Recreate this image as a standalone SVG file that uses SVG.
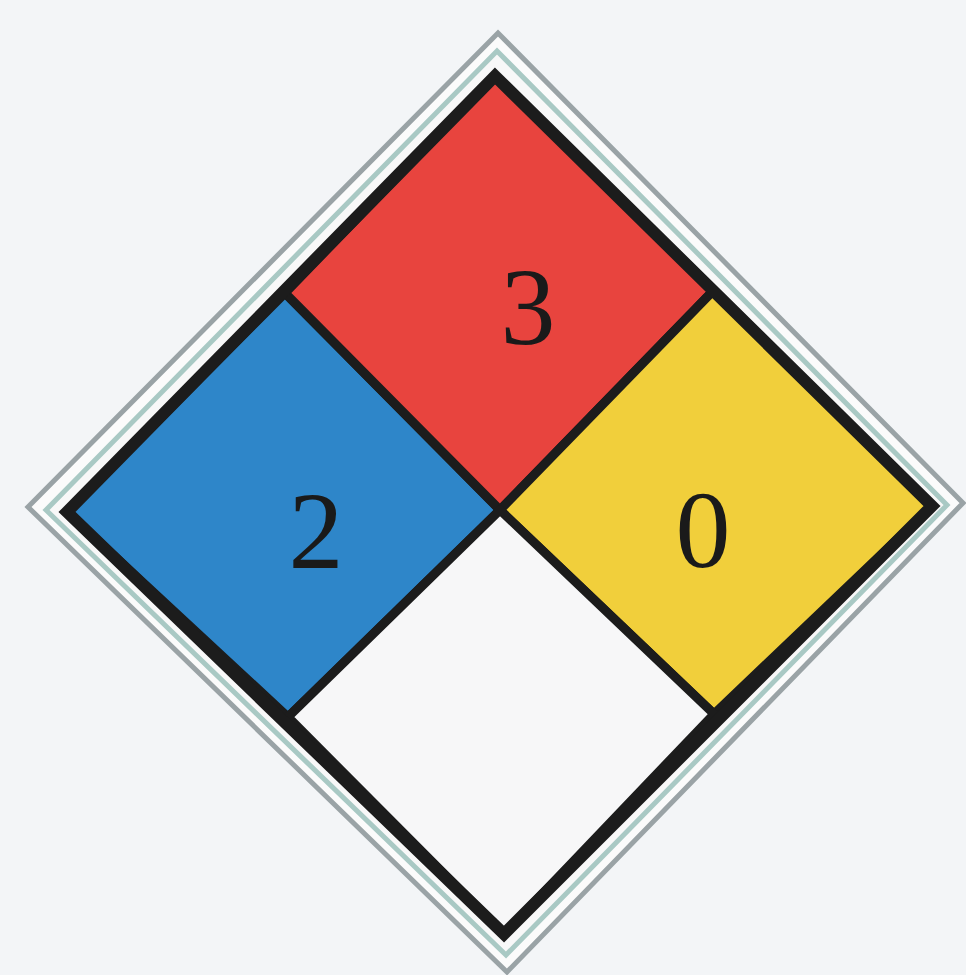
<svg xmlns="http://www.w3.org/2000/svg" width="966" height="975" viewBox="0 0 966 975">
  <style>
    .num { font-family: "Liberation Serif", "Times New Roman", serif; font-size: 110px; fill: #1a1a1a; text-anchor: middle; }
    .quad { stroke: #1c1c1c; stroke-width: 9; stroke-linejoin: round; }
  </style>
  <rect x="0" y="0" width="966" height="975" fill="#f3f5f7"/>
  <g id="frame">
    <polygon points="498,33 963,503 507,972 28,507" fill="#fbfbfb" stroke="#9aa3a6" stroke-width="5"/>
    <polygon points="497,51 947,505 506,955 46,510" fill="#f8f8f8" stroke="#a9c9c4" stroke-width="5"/>
  </g>
  <g id="health">
    <polygon class="quad" points="285,293 500,510 288,717 67,512" fill="#2e86c9"/>
    <text class="num" x="316" y="568">2</text>
  </g>
  <g id="flammability">
    <polygon class="quad" points="495,76 714,290 500,510 285,293" fill="#e8443e"/>
    <text class="num" x="528" y="344">3</text>
  </g>
  <g id="instability">
    <polygon class="quad" points="714,290 932,506 714,714 500,510" fill="#f1cf3b"/>
    <text class="num" x="703" y="567">0</text>
  </g>
  <g id="special">
    <polygon class="quad" points="500,510 714,714 504,934 288,717" fill="#f7f7f8"/>
  </g>
  <g id="border">
    <polygon points="495,76 932,506 504,934 67,512" fill="none" stroke="#1c1c1c" stroke-width="12" stroke-linejoin="miter"/>
  </g>
</svg>
